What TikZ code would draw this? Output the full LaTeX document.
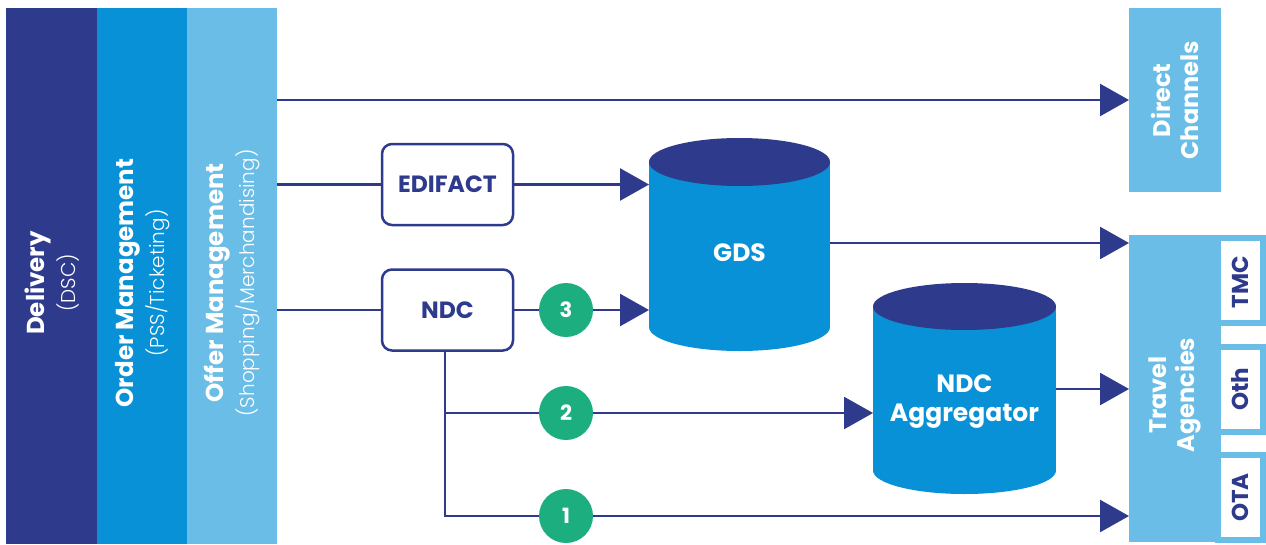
\documentclass[tikz,border=0pt]{standalone}
\usepackage{fontspec}
\setmainfont{Poppins}
\newfontfamily\lightfont{Poppins Light}
\usetikzlibrary{arrows.meta,calc}
\definecolor{navy}{HTML}{2E3A8C}
\definecolor{midblue}{HTML}{0891D6}
\definecolor{lightblue}{HTML}{6ABDE6}
\definecolor{mygreen}{HTML}{1DAE7F}
\begin{document}
\begin{tikzpicture}[x=1pt,y=-1pt,
  conn/.style={draw=navy, line width=2.5pt},
  arr/.style={conn, -{Triangle[length=29pt,width=32pt]}},
  colbox/.style={rectangle, inner sep=0pt, anchor=north west},
  coltext/.style={rotate=90, align=center, text=white, font=\fontsize{24.5}{31}\selectfont\bfseries},
  chbox/.style={rectangle, fill=lightblue, inner sep=0pt, anchor=north west},
  chtext/.style={rotate=90, align=center, text=white, font=\fontsize{24}{28}\selectfont\bfseries},
  tab/.style={rectangle, draw=lightblue, line width=6pt, fill=white, inner sep=0pt, minimum width=45pt, minimum height=85pt},
  tabtext/.style={rotate=90, text=navy, font=\fontsize{23}{23}\selectfont\bfseries},
  ibox/.style={rectangle, draw=navy, line width=2.5pt, rounded corners=10pt, fill=white, minimum width=131pt, minimum height=81pt, text=navy, font=\fontsize{23.5}{23.5}\selectfont\bfseries},
  num/.style={circle, fill=mygreen, minimum size=54pt, inner sep=0pt, text=white, font=\fontsize{21}{21}\selectfont\bfseries},
  cyltext/.style={text=white, align=center, font=\fontsize{25}{29}\selectfont\bfseries},
  cylarea/.style={rectangle, inner sep=0pt, anchor=north west}
]
\useasboundingbox (0,0) rectangle (1266,544);
\fill[white] (0,0) rectangle (1266,544);

% left columns
\node[colbox, fill=navy, minimum width=91pt, minimum height=536pt] (deliv) at (6,8) {};
\node[colbox, fill=midblue, minimum width=90pt, minimum height=536pt] (order) at (97,8) {};
\node[colbox, fill=lightblue, minimum width=90pt, minimum height=536pt] (offer) at (187,8) {};
\node[coltext] (delivt) at (52.5,283) {Delivery\\{\lightfont\mdseries\fontsize{20}{31}\selectfont (DSC)}};
\node[coltext] (ordert) at (142.5,283) {Order Management\\{\lightfont\mdseries\fontsize{20}{31}\selectfont (PSS/Ticketing)}};
\node[coltext] (offert) at (232.5,283) {Offer Management\\{\lightfont\mdseries\fontsize{20}{31}\selectfont (Shopping/Merchandising)}};

% right channels
\node[chbox, minimum width=92pt, minimum height=184pt] (direct) at (1129,8) {};
\node[chtext] (directt) at (direct.center) {Direct\\Channels};
\node[chbox, minimum width=92pt, minimum height=307pt] (ta) at (1129,235) {};
\node[tab] (tmc) at (1240.5,280.5) {};
\node[tab] (oth) at (1240.5,389) {};
\node[tab] (ota) at (1240.5,497.5) {};
\node[tabtext] at (1240,282) {TMC};
\node[tabtext] at (1240,389) {Oth};
\node[tabtext] at (1240,497.5) {OTA};
\node[chtext] (tat) at (1175,395) {Travel\\Agencies};

% GDS cylinder
\node[cylarea, minimum width=181pt, minimum height=213pt] (gds) at (649,138) {};
\fill[midblue] (739.5,327) ellipse [x radius=90.5pt, y radius=24pt];
\fill[midblue] (649,162) rectangle (830,327);
\fill[navy] (739.5,162) ellipse [x radius=90.5pt, y radius=24pt];
\node[cyltext] (gdst) at (739.5,253) {GDS};

% NDC Aggregator cylinder
\node[cylarea, minimum width=183pt, minimum height=211pt] (agg) at (873,283) {};
\fill[midblue] (964.5,470.5) ellipse [x radius=91.5pt, y radius=23.5pt];
\fill[midblue] (873,306.5) rectangle (1056,470.5);
\fill[navy] (964.5,306.5) ellipse [x radius=91.5pt, y radius=23.5pt];
\node[cyltext] (aggt) at (964.5,402) {NDC\\Aggregator};

% protocol boxes
\node[ibox] (edi) at (447.5,184.5) {EDIFACT};
\node[ibox] (ndc) at (447.5,310) {NDC};

% numbered circles
\node[num] (c3) at (566,310) {3};
\node[num] (c2) at (566,413) {2};
\node[num] (c1) at (566,516) {1};
\coordinate (j2) at (445,413);
\coordinate (j1) at (445,516);

% connectors
\draw[arr] (offer.east |- 0,100) -- (0,100 -| direct.west);
\draw[conn] (offer.east |- edi) -- (edi.west);
\draw[arr] (edi.east) -- (edi.east -| gds.west);
\draw[conn] (offer.east |- ndc) -- (ndc.west);
\draw[conn] (ndc.east) -- (c3);
\draw[arr] (c3) -- (c3 -| gds.west);
\draw[arr] (gds.east |- 0,243) -- (0,243 -| ta.west);
\draw[conn] (ndc.south -| j1) -- (j1) -- (c1);
\draw[conn] (j2) -- (c2);
\draw[arr] (c2) -- (c2 -| agg.west);
\draw[arr] (c1) -- (c1 -| ta.west);
\draw[arr] (agg.east |- 0,389) -- (0,389 -| ta.west);
\end{tikzpicture}
\end{document}
